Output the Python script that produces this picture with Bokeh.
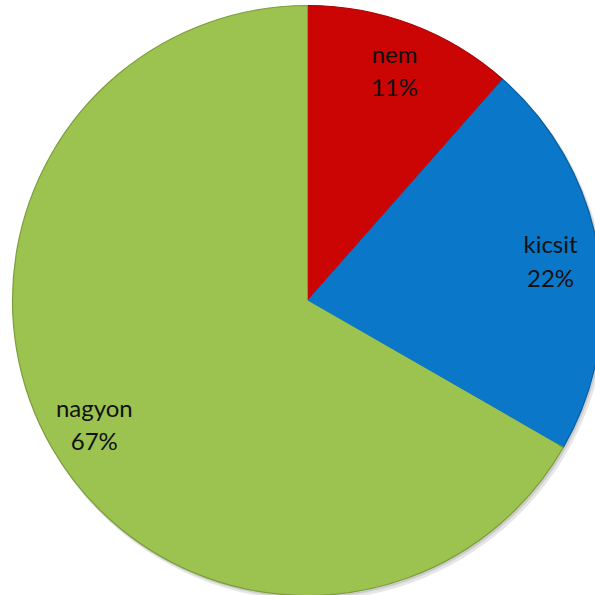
import numpy as np
from bokeh.plotting import figure
from bokeh.models import Range1d, ColumnDataSource
from bokeh.core.properties import value
from bokeh.embed import file_html
from bokeh.resources import INLINE

# data
categories = ["nem", "kicsit", "nagyon"]
shares = [0.115, 0.218, 0.667]
pct_labels = ["11%", "22%", "67%"]
colors = ["#CB0404", "#0B77C9", "#9CC350"]
edge_colors = ["#A80000", "#075FA3", "#7A9E3A"]

R = 295.0
frac = np.array(shares) / sum(shares)
cum = np.cumsum(frac)
prev = cum - frac
start = np.pi / 2 - prev * 2 * np.pi
end = np.pi / 2 - cum * 2 * np.pi
mid = (start + end) / 2
lr = 0.835 * R

src = ColumnDataSource(dict(
    start=start, end=end, color=colors, edge=edge_colors,
    lx=lr * np.cos(mid), ly=lr * np.sin(mid),
    text=[f"{c}\n{p}" for c, p in zip(categories, pct_labels)],
))

W = H = 595
cx, cy = 307, 300  # centre in frame pixels (from left, from top)
p = figure(width=W, height=H, output_backend="svg", toolbar_location=None,
           x_range=Range1d(-cx, W - cx), y_range=Range1d(-(H - cy), cy),
           min_border=0, outline_line_color=None)
p.axis.visible = False
p.grid.visible = False
p.background_fill_color = "white"
p.border_fill_color = "white"

# soft shadow
p.circle(x=[3], y=[-4], radius=R + 1, fill_color="#B8B8B8", fill_alpha=0.35, line_color=None)
p.circle(x=[1.5], y=[-2], radius=R + 0.5, fill_color="#9A9A9A", fill_alpha=0.35, line_color=None)

p.wedge(x=0, y=0, radius=R, start_angle="start", end_angle="end", direction="clock",
        fill_color="color", line_color="edge", line_width=1.2, source=src)
p.wedge(x=0, y=0, radius=R - 6, start_angle="start", end_angle="end", direction="clock",
        fill_color="color", line_color=None, source=src)

p.text(x="lx", y="ly", text="text", source=src, text_align="center",
       text_baseline="middle", text_font=value("Lato"), text_font_size="24px",
       text_color="#111111", text_line_height=1.15)

open("out.html", "w").write(file_html(p, INLINE))
